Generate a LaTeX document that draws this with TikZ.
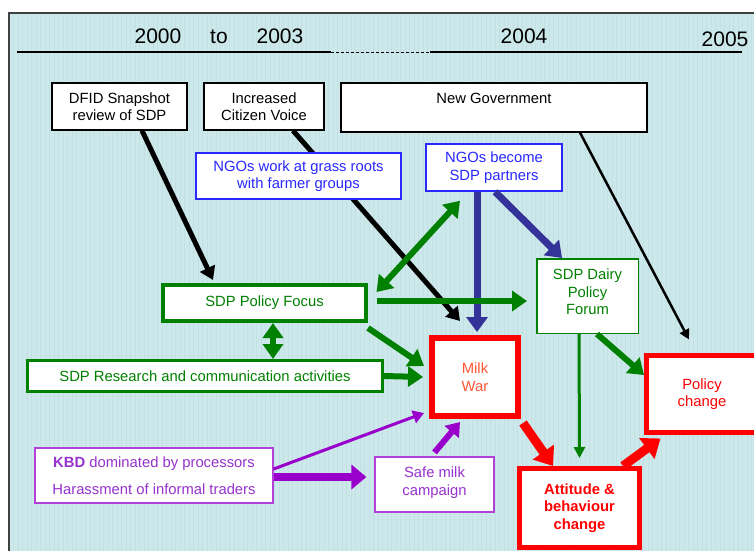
\documentclass[tikz,border=0pt]{standalone}
\usepackage{fontspec}
\setmainfont{Liberation Sans}
\usetikzlibrary{arrows.meta}

\definecolor{sdpgreen}{RGB}{0,128,0}
\definecolor{ngoblue}{RGB}{40,40,255}
\definecolor{navyarrow}{RGB}{51,51,153}
\definecolor{warred}{RGB}{255,0,0}
\definecolor{wartext}{RGB}{255,85,51}
\definecolor{kbdpurple}{RGB}{153,0,204}
\definecolor{kbdtext}{RGB}{150,50,205}
\definecolor{bgcyan}{RGB}{205,232,234}
\definecolor{gridcyan}{RGB}{194,225,228}

\begin{document}
\begin{tikzpicture}[x=1pt, y=-1pt,
  txt/.style={font=\fontsize{14.8}{17.5}\selectfont},
  year/.style={font=\fontsize{21}{24}\selectfont, anchor=base, inner sep=0pt},
  box/.style={txt, draw, fill=white, align=center, inner sep=0pt},
  blackbox/.style={box, line width=1.2pt},
  ngobox/.style={box, draw=ngoblue, text=ngoblue, line width=1.5pt},
  greenbox/.style={box, draw=sdpgreen, text=sdpgreen},
  redbox/.style={box, draw=warred, text=warred},
  purplebox/.style={box, draw=kbdpurple!75, text=kbdtext, line width=1.2pt},
  karrow/.style={line width=5pt, -{Triangle[length=13pt, width=16pt]}},
  thinarrow/.style={line width=2.5pt, -{Triangle[length=10pt, width=10pt]}},
  barrow/.style={navyarrow, line width=7pt, -{Triangle[length=15pt, width=21pt]}},
  garrow/.style={sdpgreen, line width=6pt, -{Triangle[length=15pt, width=20pt]}},
  gboth/.style={sdpgreen, line width=6pt, {Triangle[length=15pt, width=20pt]}-{Triangle[length=15pt, width=20pt]}},
  rarrow/.style={warred, line width=9pt, -{Triangle[length=17pt, width=25pt]}},
  parrow/.style={kbdpurple, -{Triangle[length=13pt, width=18pt]}}]
\useasboundingbox (0,0) rectangle (754,550);
\clip (0,0) rectangle (754,550);

% background and frame
\fill[bgcyan] (9,13) rectangle (780,580);
\draw[gridcyan, line width=0.3pt, step=4.5] (9,13) grid (780,580);
\draw[black!75, line width=1.3pt] (9,13) rectangle (780,580);

% time line
\node[year] (y2000) at (158,43) {2000};
\node[year] (yto) at (219,43) {to};
\node[year] (y2003) at (280,43) {2003};
\node[year] (y2004) at (524,43) {2004};
\node[year] (y2005) at (725,46) {2005};
\draw[line width=1.5pt] (17,52) -- (331,52);
\draw[line width=1pt, dash pattern=on 3pt off 2pt] (331,52) -- (430,52);
\draw[line width=1.5pt] (430,52) -- (742,52);

% black arrows go under the boxes
\node[blackbox, minimum width=120pt, minimum height=47pt] (voice) at (264,106.5) {Increased\\Citizen Voice};
\node[box, minimum width=86pt, minimum height=78pt, draw=warred, line width=6pt, text=wartext] (milkwar) at (475,377) {Milk\\War};
\draw[karrow] ([xshift=29pt]voice.south) -- ([xshift=-15pt, yshift=14pt]milkwar.north);

\node[blackbox, minimum width=135pt, minimum height=47pt] (dfid) at (119.5,106.5) {DFID Snapshot\\review of SDP};
\node[blackbox, minimum width=306pt, minimum height=49pt] (gov) at (494,107.5) {New Government\\\mbox{}};
\node[ngobox, minimum width=205pt, minimum height=46pt] (ngograss) at (298.5,176) {NGOs work at grass roots\\with farmer groups};
\node[ngobox, minimum width=136pt, minimum height=47pt] (ngopart) at (494,167.5) {NGOs become\\SDP partners};

\node[greenbox, line width=4pt, minimum width=203pt, minimum height=36pt] (focus) at (264.5,303) {SDP Policy Focus};
\node[greenbox, line width=3pt, minimum width=355pt, minimum height=31pt] (research) at (205,376) {SDP Research and communication activities};
\node[greenbox, line width=1.5pt, minimum width=101.5pt, minimum height=74.5pt, text depth=8pt] (forum) at (587.5,296) {SDP Dairy\\Policy\\Forum};

\node[redbox, line width=5pt, minimum width=111pt, minimum height=77pt] (policy) at (702,394) {Policy\\change};
\node[redbox, line width=5pt, minimum width=120pt, minimum height=79pt, font=\fontsize{14.8}{17.5}\selectfont\bfseries] (attitude) at (579.5,508) {Attitude \&\\behaviour\\change};

\node[purplebox, minimum width=238pt, minimum height=55pt] (kbd) at (154,475.5) {\textbf{KBD} dominated by processors\\[9pt]Harassment of informal traders};
\node[purplebox, minimum width=119pt, minimum height=55pt, text depth=7pt] (safemilk) at (434.5,484.5) {Safe milk\\campaign};

% drivers
\draw[karrow] ([xshift=22.5pt]dfid.south) -- ([xshift=-51.5pt, yshift=3pt]focus.north);
\draw[thinarrow] ([xshift=86pt]gov.south) -- ([xshift=-13pt, yshift=13.5pt]policy.north);

% NGOs
\draw[barrow] ([xshift=-17pt]ngopart.south) -- ([xshift=2pt, yshift=3pt]milkwar.north);
\draw[barrow] ([xshift=1pt]ngopart.south) -- ([xshift=-25.5pt]forum.north);

% SDP
\draw[gboth] ([xshift=8.5pt, yshift=11pt]focus.east) -- ([xshift=-34pt, yshift=-9pt]ngopart.south);
\draw[garrow] ([xshift=8.5pt, yshift=2pt]focus.east) -- ([xshift=-9pt, yshift=-5pt]forum.west);
\draw[garrow] ([yshift=-5pt]focus.south east) -- ([xshift=-5pt, yshift=11pt]milkwar.west);
\draw[garrow] (research.east) -- ([xshift=-6pt]milkwar.west);
\draw[gboth] ([xshift=8.5pt]focus.south) -- ([xshift=68pt]research.north);
\draw[sdpgreen, line width=3pt, -{Triangle[length=11pt, width=11pt]}] ([xshift=-8.5pt]forum.south) -- ([yshift=8pt]attitude.north);
\draw[garrow] ([xshift=9.5pt]forum.south) -- ([yshift=19pt]policy.west);

% outcomes
\draw[rarrow] ([xshift=2pt, yshift=-4pt]milkwar.south east) -- ([xshift=-26.5pt]attitude.north);
\draw[rarrow] ([xshift=43.5pt]attitude.north) -- ([xshift=16.5pt, yshift=-3.5pt]policy.south west);

% KBD
\draw[parrow, line width=3pt, -{Triangle[length=11pt, width=13pt]}] ([yshift=6.5pt]kbd.east) -- ([xshift=-5pt, yshift=6pt]milkwar.south west);
\draw[parrow, line width=8pt, -{Triangle[length=15pt, width=24pt]}] ([yshift=-1.5pt]kbd.east) -- ([xshift=-8pt, yshift=7.5pt]safemilk.west);
\draw[parrow, line width=6pt] ([yshift=4pt]safemilk.north) -- ([xshift=-15pt, yshift=-3pt]milkwar.south);
\end{tikzpicture}
\end{document}
